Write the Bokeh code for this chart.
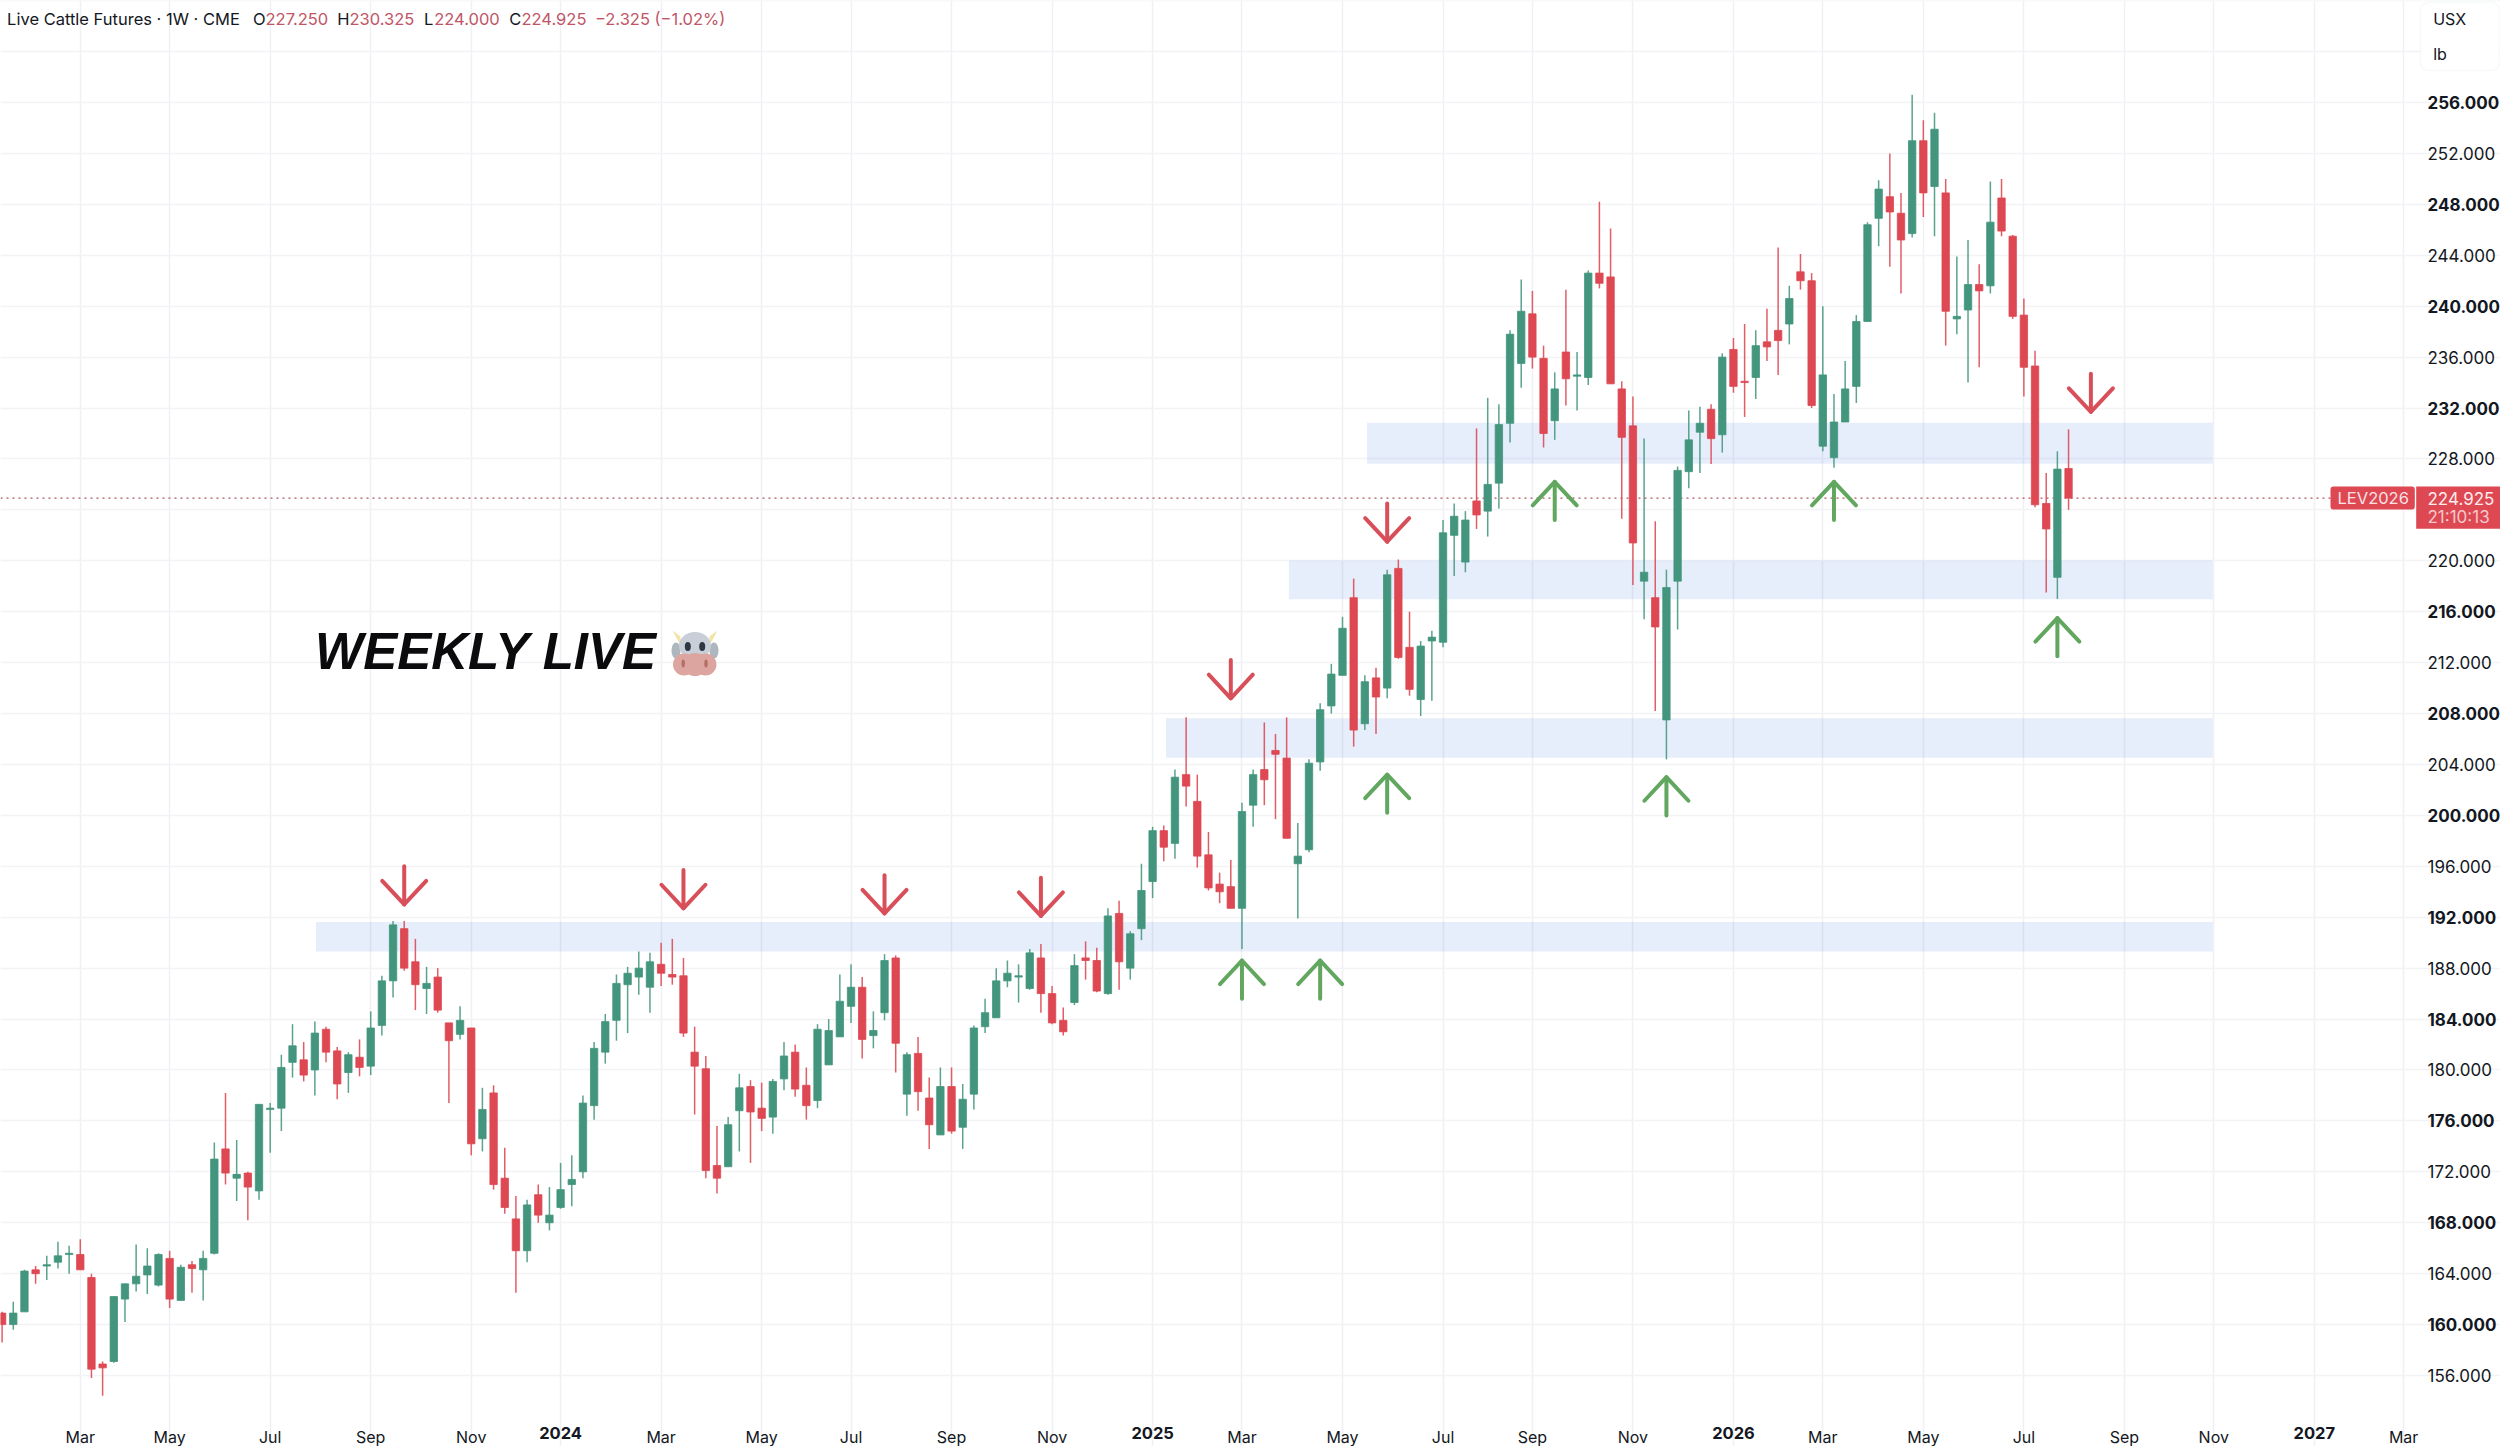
from bokeh.plotting import figure
from bokeh.embed import file_html
from bokeh.resources import INLINE
from bokeh.models import ColumnDataSource, FixedTicker, Label, BoxAnnotation, Span, LinearAxis, Grid

# Weekly OHLC of Live Cattle Futures, one bar per week
opens = [160.9,160.0,161.0,164.3,164.6,164.9,165.5,165.5,163.7,156.9,157.1,162.0,163.2,163.9,163.1,165.2,161.9,164.7,164.3,165.6,
 173.8,171.5,171.9,170.5,176.9,177.0,180.6,180.8,180.0,183.2,181.5,179.8,181.0,180.3,183.5,187.0,191.1,188.5,186.4,187.3,
 183.7,182.8,183.3,174.6,178.2,171.5,168.3,165.8,170.2,168.0,169.2,171.0,172.0,177.2,181.4,183.9,186.7,187.3,186.5,188.3,
 187.5,187.4,181.4,180.1,172.5,172.4,176.8,178.7,177.0,176.3,179.3,181.4,178.8,177.6,180.4,182.6,185.0,186.5,182.7,184.5,
 188.8,178.1,181.3,177.8,174.9,178.7,175.5,178.1,183.4,184.1,187.0,187.3,186.4,188.8,186.0,183.9,185.3,188.8,188.6,186.0,
 192.3,188.0,191.1,194.8,198.8,197.8,203.2,201.1,196.9,194.6,194.4,192.7,200.8,203.6,205.1,204.5,196.2,197.3,204.2,208.6,
 211.0,217.1,207.2,210.8,210.0,219.4,213.2,209.1,213.7,213.6,222.0,219.9,224.7,223.9,226.1,230.8,235.5,239.4,235.9,231.0,
 236.4,234.5,234.4,242.6,242.3,233.5,230.6,218.4,217.1,207.5,218.4,227.0,230.1,231.9,229.9,236.6,234.1,234.4,237.2,238.1,
 238.6,242.7,242.0,229.0,228.1,230.9,233.7,238.8,246.9,248.6,247.3,245.7,253.0,249.4,248.9,239.0,239.7,241.7,241.6,248.5,
 245.5,239.3,235.3,224.5,218.7,227.25]
highs = [161.0,161.8,164.3,164.6,165.4,166.5,166.2,166.7,164.0,157.1,162.2,163.2,166.3,166.0,165.6,165.8,164.7,165.0,165.8,174.3,
 178.2,174.5,172.0,177.3,177.4,181.2,183.6,182.2,183.8,183.4,181.8,181.4,182.4,184.6,187.4,191.7,191.7,190.3,188.1,188.0,
 183.7,185.0,183.3,178.6,178.8,173.9,170.1,169.8,171.0,170.8,172.7,173.3,178.0,182.2,184.4,187.5,188.1,189.3,189.2,190.0,
 190.3,188.8,183.4,181.1,175.6,176.3,179.7,179.2,179.0,179.3,182.2,182.0,180.2,183.6,184.0,187.5,188.3,187.3,184.6,189.1,
 189.0,181.4,182.6,179.4,180.2,180.2,178.9,183.5,185.6,188.0,188.6,188.3,189.5,189.9,186.6,184.9,189.1,190.1,189.6,192.7,
 193.3,190.9,196.2,199.1,199.2,203.6,207.7,203.2,198.7,195.5,196.5,201.0,203.6,207.3,206.4,207.7,199.4,204.4,208.8,211.9,
 215.6,218.6,211.0,211.6,219.3,220.1,216.0,213.7,214.5,223.2,224.5,223.9,230.4,232.8,232.3,238.1,242.1,241.2,236.9,234.8,
 241.3,236.4,242.8,248.2,246.1,234.1,232.9,229.6,223.1,219.3,227.4,231.8,232.1,232.3,236.3,237.5,238.6,238.1,239.8,244.6,
 241.6,244.1,242.6,240.0,233.1,235.7,239.3,246.6,249.9,252.0,248.9,256.6,254.6,255.2,250.0,243.9,245.2,243.3,249.8,250.0,
 245.6,240.6,236.5,226.9,228.6,230.325]
lows = [158.6,159.6,161.0,163.2,163.5,164.4,164.0,164.3,155.8,154.4,157.0,160.2,162.6,162.4,163.0,161.3,161.9,162.5,161.9,165.5,
 171.0,169.7,168.2,169.8,173.5,175.2,179.4,179.1,178.0,180.6,177.7,178.2,179.5,179.6,182.7,185.7,187.8,184.7,184.4,184.5,
 177.4,182.4,173.3,173.6,170.6,168.7,162.5,164.9,168.0,167.4,169.1,169.3,171.5,176.1,180.5,182.3,182.9,185.9,184.5,186.6,
 186.7,182.6,176.5,171.5,170.3,172.4,173.6,172.7,175.2,175.0,178.4,177.9,176.1,177.0,180.4,182.6,183.7,180.9,181.7,183.9,
 179.8,176.4,176.8,173.8,174.9,175.0,173.8,176.9,182.9,184.1,186.5,185.3,186.3,184.5,183.6,182.7,185.1,187.1,186.1,185.9,
 186.3,187.1,190.2,193.5,196.4,196.6,200.7,195.9,194.1,193.1,192.7,189.5,199.1,200.8,199.7,198.2,191.9,197.1,203.5,208.0,
 211.0,205.4,206.7,206.4,209.2,212.3,209.4,207.8,209.0,213.2,218.8,219.1,222.5,221.9,224.1,229.3,233.6,235.1,228.9,229.5,
 232.2,231.8,233.8,241.4,233.9,223.3,218.1,215.4,208.2,204.4,214.6,225.7,226.9,227.6,228.5,233.2,231.3,232.7,235.7,234.6,
 237.0,241.3,232.0,228.6,227.3,230.9,232.4,238.8,244.7,243.1,241.0,245.4,247.0,245.5,236.9,237.8,234.0,235.2,241.0,245.5,
 239.0,232.9,224.2,217.5,217.0,224.0]
closes = [160.0,160.9,164.2,164.0,164.7,165.4,165.6,164.3,156.5,156.6,162.2,163.2,163.8,164.6,165.5,162.0,164.5,164.4,165.2,173.0,
 171.9,171.8,170.8,177.3,177.0,180.2,181.9,179.6,182.9,181.4,178.9,181.2,180.2,183.3,187.0,191.4,188.0,186.7,186.8,184.7,
 182.3,183.9,174.2,176.9,171.0,169.2,165.8,169.4,168.6,168.6,170.6,171.4,177.4,181.7,183.8,186.8,187.6,188.0,188.5,187.6,
 187.3,182.9,180.3,172.1,171.5,175.7,178.6,176.7,176.2,179.1,181.1,178.5,177.2,183.2,183.1,185.4,186.5,182.4,183.1,188.6,
 182.1,181.2,178.3,175.7,178.7,175.2,177.7,183.3,184.5,187.0,187.6,187.4,189.2,186.0,183.7,183.0,188.2,188.6,186.2,192.1,
 188.5,190.7,194.1,198.8,197.5,203.0,202.3,196.8,194.3,194.0,192.7,200.3,203.2,202.8,204.8,198.2,196.8,204.1,208.3,211.1,
 214.7,206.7,210.5,209.3,218.9,212.4,209.9,213.3,214.0,222.2,223.5,223.2,223.6,226.0,230.7,237.8,239.6,236.0,230.0,233.5,
 234.3,234.6,242.6,241.8,233.9,229.7,221.4,219.1,214.8,217.9,227.1,229.5,230.8,229.6,236.0,233.7,234.0,236.9,236.8,237.3,
 240.6,242.0,232.2,234.6,230.9,233.5,238.8,246.4,249.2,247.4,245.2,253.0,248.9,253.9,239.6,239.2,241.7,241.2,246.6,245.9,
 239.2,235.2,224.4,222.5,227.2,224.925]

# Support / resistance zones: first bar, last bar, lower price, upper price
band_start = [28.1, 104.2, 115.2, 122.2]
band_end = [197.9, 197.9, 197.9, 197.9]
band_low = [189.3, 204.52, 216.98, 227.62]
band_high = [191.62, 207.63, 220.02, 230.84]

# Hand-drawn arrows: bar and price of the tip
down_idx = [36, 61, 79, 93, 110, 124, 187]
down_tip = [193.0, 192.7, 192.3, 192.1, 209.2, 221.5, 231.7]
up_idx = [111, 118, 124, 139, 149, 164, 184]
up_tip = [188.6, 188.6, 203.2, 226.2, 203.0, 226.2, 215.5]

# Axis ticks
month_ticks = [7,15,24,33,42,59,68,76,85,94,111,120,129,137,146,163,172,181,190,198,215]
month_labels = ["Mar","May","Jul","Sep","Nov","Mar","May","Jul","Sep","Nov","Mar","May","Jul","Sep","Nov","Mar","May","Jul","Sep","Nov","Mar"]
year_ticks = [50, 103, 155, 207]
year_labels = ["2024", "2025", "2026", "2027"]
plain_prices = [156,164,172,180,188,196,204,212,220,228,236,244,252]
bold_prices = [160,168,176,184,192,200,208,216,232,240,248,256]
grid_prices = [156,160,164,168,172,176,180,184,188,192,196,200,204,208,212,216,220,224,228,232,236,240,244,248,252,256,260,264]
last_price = 224.925

W, H = 2500, 1446
FR, FB = 2415, 1418
BAR0, BARW = 1.6, 11.17
PX_UNIT = 12.73
def px2x(px): return (px - BAR0) / BARW
def px2y(py): return 256 - (py - 102) / PX_UNIT

p = figure(width=W, height=H, output_backend="svg", toolbar_location=None,
           x_range=(px2x(0), px2x(W)), y_range=(px2y(H), px2y(0)),
           x_axis_location=None, y_axis_location=None,
           min_border_left=0, min_border_top=0, min_border_right=0, min_border_bottom=0)
p.outline_line_color = None
p.background_fill_color = "white"
p.grid.visible = False

INK = "#131722"
FONT = "Inter"

def make_axis(ticks, overrides, loc, size, standoff, style, side):
    ax = LinearAxis(ticker=FixedTicker(ticks=ticks), fixed_location=loc)
    ax.major_label_overrides = overrides
    ax.axis_line_color = None
    ax.major_tick_line_color = None
    ax.minor_tick_line_color = None
    ax.major_tick_out = 0
    ax.major_tick_in = 0
    ax.major_label_text_font = FONT
    ax.major_label_text_color = INK
    ax.major_label_text_font_size = size
    ax.major_label_text_font_style = style
    ax.major_label_standoff = standoff
    p.add_layout(ax, side)
    return ax

make_axis(plain_prices, {v: f"{v}.000" for v in plain_prices}, px2x(FR), "17px", 12, "normal", "right")
make_axis(bold_prices, {v: f"{v}.000" for v in bold_prices}, px2x(FR), "17px", 12, "bold", "right")
make_axis(month_ticks, dict(zip(month_ticks, month_labels)), px2y(FB), "16px", 8, "normal", "below")
make_axis(year_ticks, dict(zip(year_ticks, year_labels)), px2y(FB), "16.5px", 8, "bold", "below")

p.add_layout(Grid(dimension=0, ticker=FixedTicker(ticks=month_ticks + year_ticks), bounds=(px2y(FB), px2y(0)),
                  grid_line_color="#eef0f4", grid_line_width=1.5))
p.add_layout(Grid(dimension=1, ticker=FixedTicker(ticks=grid_prices), bounds=(px2x(0), px2x(FR)),
                  grid_line_color="#f2f3f6", grid_line_width=1.6))

p.add_layout(Span(location=last_price, dimension="width", line_color="#b4525f", line_width=1.2,
                  line_dash="2 4", level="underlay"))

p.quad(left=band_start, right=band_end, bottom=band_low, top=band_high,
       fill_color="#2663dc", fill_alpha=0.115, line_color=None)

idx = list(range(len(opens)))
RED, GREEN = "#dd4852", "#43967d"
colors = [GREEN if c > o else RED for o, c in zip(opens, closes)]
src = ColumnDataSource(dict(x=idx, o=opens, h=highs, l=lows, c=closes, color=colors,
                            top=[max(a, b) for a, b in zip(opens, closes)],
                            bot=[min(a, b) for a, b in zip(opens, closes)]))
p.segment("x", "h", "x", "l", source=src, line_color="color", line_width=1.5, line_alpha=0.88)
p.vbar("x", width=0.66, top="top", bottom="bot", source=src, fill_color="color", line_color="color", line_width=0.8)

# arrows: shaft and open head
HEAD_X, HEAD_Y, SHAFT = 1.97, 1.85, 3.0
def arrow_paths(idxs, tips, sign):
    xs, ys = [], []
    for i, t in zip(idxs, tips):
        xs += [[i, i], [i - HEAD_X, i, i + HEAD_X]]
        ys += [[t, t + sign * SHAFT], [t + sign * HEAD_Y, t, t + sign * HEAD_Y]]
    return xs, ys
for idxs, tips, sign, col in ((down_idx, down_tip, 1, "#d84f5a"), (up_idx, up_tip, -1, "#62a75f")):
    xs, ys = arrow_paths(idxs, tips, sign)
    p.multi_line(xs, ys, line_color=col, line_width=4, line_cap="round", line_join="round")

def text(px, py, s, size, color=INK, style="normal", align="left", font=FONT):
    p.add_layout(Label(x=px, y=py, x_units="canvas", y_units="canvas", text=s, text_font=font,
                       text_font_size=f"{size}px", text_color=color, text_font_style=style,
                       text_align=align, text_baseline="middle"))

# header
TXT_RED = "#bf5566"
text(6.6, 18, "Live Cattle Futures · 1W · CME", 16.5)
for px, s in ((252.5, "O"), (336.7, "H"), (423.5, "L"), (508.7, "C")):
    text(px, 18, s, 16.5)
for px, s in ((265, "227.250"), (349, "230.325"), (433.7, "224.000"), (521, "224.925"), (594.4, "−2.325 (−1.02%)")):
    text(px, 18, s, 16.5, color=TXT_RED)

# unit box
def box(l, r, t, b, **kw):
    p.add_layout(BoxAnnotation(left=l, right=r, top=t, bottom=b, left_units="canvas", right_units="canvas",
                               top_units="canvas", bottom_units="canvas", **kw))
box(2420, 2499, 2, 70, fill_color="white", fill_alpha=1, line_color="#e9ecf1", line_width=1.5, border_radius=8)
text(2432.7, 18, "USX", 16)
text(2432.7, 53.6, "lb", 16)

# last price tags
box(2330, 2414.3, 486, 509, fill_color=RED, fill_alpha=1, line_color=None, border_radius=3)
box(2415.7, 2500, 486, 528.3, fill_color=RED, fill_alpha=1, line_color=None)
text(2337, 497.5, "LEV2026", 16.5, color="#fbe3e5")
text(2427, 497.5, "224.925", 17, color="#fdecee")
text(2427, 516.7, "21:10:13", 17, color="#f7c8cc")

# title and cow face
text(314.5, 650.5, "WEEKLY LIVE", 51, color="#0b0b0d", style="bold italic", font="Liberation Sans")
def poly(pts, color):
    p.patch([px2x(a) for a, _ in pts], [px2y(b) for _, b in pts], fill_color=color, line_color=None)
def ell(cx, cy, w, h, color):
    p.ellipse(px2x(cx), px2y(cy), width=w, height=h, width_units="screen", height_units="screen",
              fill_color=color, line_color=None)
poly([(672, 630), (680, 636), (680, 645)], "#f3e3a6")
poly([(717, 630), (709, 636), (709, 645)], "#f3e3a6")
ell(675.5, 650, 9, 16, "#aeb7c0")
ell(713.5, 650, 9, 16, "#aeb7c0")
ell(694.5, 645, 32, 27, "#c8cfd8")
ell(687.3, 646, 6, 9, "#2f3742")
ell(701.7, 646, 6, 9, "#2f3742")
ell(683.5, 664, 22, 22, "#dda59f")
ell(705, 664, 22, 22, "#dda59f")
ell(694.5, 664, 24, 23, "#dda59f")
ell(682.7, 663, 3.5, 8, "#b56f68")
ell(705.5, 663, 3.5, 8, "#b56f68")

open("out.html", "w").write(file_html(p, INLINE))
